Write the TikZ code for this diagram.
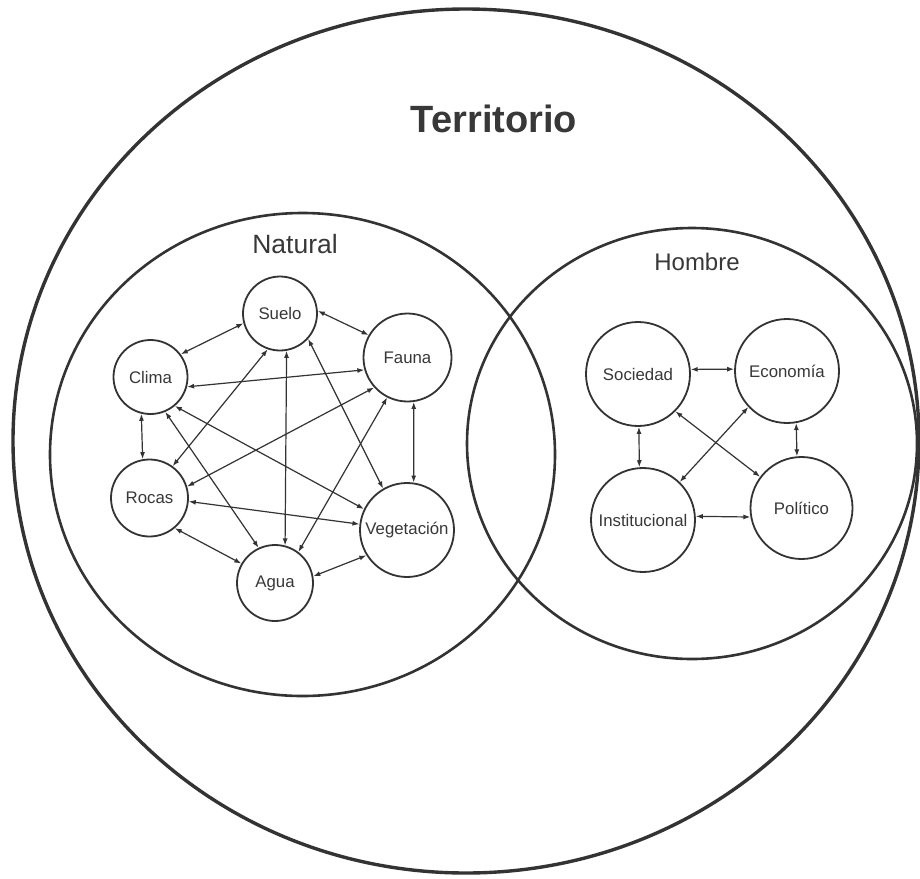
\documentclass[tikz,border=0pt]{standalone}
\usepackage{fontspec}
\setmainfont{Liberation Sans}
\usetikzlibrary{arrows.meta}
\definecolor{ink}{HTML}{333333}
\definecolor{txt}{HTML}{383838}
\begin{document}
\begin{tikzpicture}[x=1pt,y=-1pt,
  bubble/.style={circle,draw=ink,line width=1.8pt,inner sep=0pt,text=txt,font=\fontsize{16.8}{20}\selectfont},
  link/.style={draw=ink,line width=1.2pt,{Latex[length=7pt,width=5pt]}-{Latex[length=7pt,width=5pt]}},
  bigring/.style={draw=ink,line width=2.6pt},
  title/.style={text=txt,inner sep=0pt,anchor=base},
]
\useasboundingbox (0,0) rectangle (920,878);
\fill[white] (0,0) rectangle (920,878);
% rings
\draw[draw=ink,line width=3.4pt] (466,441) ellipse [x radius=453pt,y radius=432pt];
\draw[bigring] (302.5,454.5) ellipse [x radius=252.5pt,y radius=241.5pt];
\draw[bigring] (692,443.5) ellipse [x radius=225pt,y radius=215.5pt];
% titles
\node[title,font=\bfseries\fontsize{38}{42}\selectfont] (terr) at (494,132) {Territorio};
\node[title,font=\fontsize{26.5}{30}\selectfont] (nat) at (295,253) {Natural};
\node[title,font=\fontsize{24}{28}\selectfont] (hom) at (697,270) {Hombre};
% natural nodes
\node[bubble,minimum size=74pt] (suelo) at (280,313.5) {Suelo};
\node[bubble,minimum size=88pt] (fauna) at (407.5,357.5) {Fauna};
\node[bubble,minimum size=74pt] (clima) at (150.5,377) {Clima};
\node[bubble,minimum size=77pt] (rocas) at (149.5,498) {Rocas};
\node[bubble,minimum size=94pt] (veg) at (407,530) {Vegetación};
\node[bubble,minimum size=76pt] (agua) at (275,583) {Agua};
% hombre nodes
\node[bubble,minimum size=104pt] (soc) at (638,374) {Sociedad};
\node[bubble,minimum size=104pt] (eco) at (787,371) {Economía};
\node[bubble,minimum size=104pt] (inst) at (643,520) {Institucional};
\node[bubble,minimum size=102pt] (pol) at (801.5,508) {Político};
% natural links
\draw[link] (suelo.195) -- (clima.37);
\draw[link] (suelo.4) -- (fauna.150);
\draw[link] (clima.-15) -- (fauna.196);
\draw[link] (clima.256) -- (rocas.100);
\draw[link] (suelo.251) -- (rocas.54);
\draw[link] (suelo.-80) -- (agua.75);
\draw[link] (suelo.-42) -- (veg.120);
\draw[link] (fauna.222) -- (rocas.17);
\draw[link] (fauna.243) -- (agua.53);
\draw[link] (fauna.-82) -- (veg.82);
\draw[link] (clima.-50) -- (veg.154);
\draw[link] (clima.-67) -- (agua.115);
\draw[link] (rocas.-5) -- (veg.173);
\draw[link] (rocas.-50) -- (agua.150);
\draw[link] (agua.10) -- (veg.212);
% hombre links
\draw[link] (soc.5) -- (eco.178);
\draw[link] (soc.-89) -- (inst.94);
\draw[link] (soc.-45) -- (pol.143);
\draw[link] (eco.223) -- (inst.46);
\draw[link] (eco.-80) -- (pol.95);
\draw[link] (inst.4) -- (pol.190);
\end{tikzpicture}
\end{document}
